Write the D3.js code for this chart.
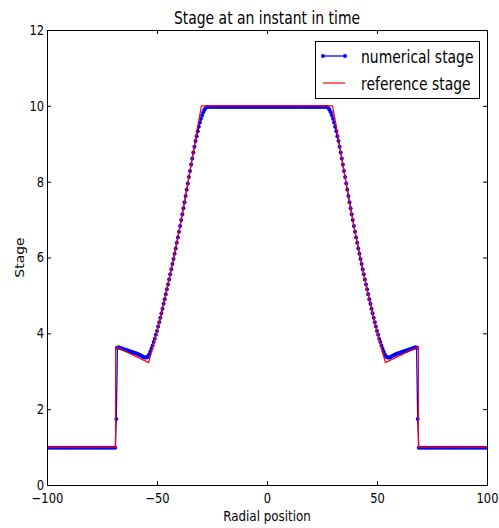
<!DOCTYPE html>
<html><head><meta charset="utf-8">
<script src="https://cdn.jsdelivr.net/npm/d3@7"></script>
<style>body{margin:0;background:#fff}</style>
</head><body><svg id="c" width="499" height="528"></svg>
<script>
// ---- data ----
const xTicks = [-100, -50, 0, 50, 100];
const yTicks = [0, 2, 4, 6, 8, 10, 12];
const seriesNames = ["numerical stage", "reference stage"];
const chartTitle = "Stage at an instant in time";
const xLabel = "Radial position";
const yLabel = "Stage";

const refX = [-100, -68.8, -68.8, -53.8, -52, -50, -48, -46, -44, -42, -40, -38, -36, -34, -32, -29.8,
  29.8, 32, 34, 36, 38, 40, 42, 44, 46, 48, 50, 52, 53.8, 68.8, 68.8, 100];
const refStage = [1.0, 1.0, 3.65, 3.23, 3.62, 4.06, 4.53, 5.03, 5.56, 6.1, 6.68, 7.3, 7.95, 8.62, 9.3, 10.0,
  10.0, 9.3, 8.62, 7.95, 7.3, 6.68, 6.1, 5.56, 5.03, 4.53, 4.06, 3.62, 3.23, 3.65, 1.0, 1.0];

const numX = [
  -100, -99, -98, -97, -96, -95, -94, -93, -92, -91, -90, -89, -88, -87, -86, -85, -84, -83, -82, -81,
  -80, -79, -78, -77, -76, -75, -74, -73, -72, -71, -70,
  -69, -68.5, -68, -67.5, -67, -66.5, -66, -65.5, -65, -64.5, -64, -63.5, -63, -62.5, -62, -61.5, -61, -60.5,
  -60, -59.5, -59, -58.5, -58, -57.5, -57, -56.5, -56, -55.5, -55, -54.5, -54, -53.5, -53, -52.5, -52, -51.5,
  -51, -50.5, -50, -49.5, -49, -48.5, -48, -47.5, -47, -46.5, -46, -45.5, -45, -44.5, -44, -43.5, -43, -42.5,
  -42, -41.5, -41, -40.5, -40, -39.5, -39, -38.5, -38, -37.5, -37, -36.5, -36, -35.5, -35, -34.5, -34, -33.5,
  -33, -32.5, -32, -31.5, -31, -30.5, -30, -29.5, -29, -28.5, -28, -27.5, -27,
  -26, -25, -24, -23, -22, -21, -20, -19, -18, -17, -16, -15, -14, -13, -12, -11, -10, -9, -8, -7, -6, -5,
  -4, -3, -2, -1, 0, 1, 2, 3, 4, 5, 6, 7, 8, 9, 10, 11, 12, 13, 14, 15, 16, 17, 18, 19, 20, 21, 22, 23, 24, 25, 26,
  27, 27.5, 28, 28.5, 29, 29.5, 30, 30.5, 31, 31.5, 32, 32.5, 33, 33.5, 34, 34.5, 35, 35.5, 36, 36.5, 37, 37.5,
  38, 38.5, 39, 39.5, 40, 40.5, 41, 41.5, 42, 42.5, 43, 43.5, 44, 44.5, 45, 45.5, 46, 46.5, 47, 47.5, 48, 48.5,
  49, 49.5, 50, 50.5, 51, 51.5, 52, 52.5, 53, 53.5, 54, 54.5, 55, 55.5, 56, 56.5, 57, 57.5, 58, 58.5, 59, 59.5,
  60, 60.5, 61, 61.5, 62, 62.5, 63, 63.5, 64, 64.5, 65, 65.5, 66, 66.5, 67, 67.5, 68, 68.5, 69,
  70, 71, 72, 73, 74, 75, 76, 77, 78, 79, 80, 81, 82, 83, 84, 85, 86, 87, 88, 89, 90, 91, 92, 93, 94, 95, 96,
  97, 98, 99, 100];
const numStage = [
  0.98, 0.98, 0.98, 0.98, 0.98, 0.98, 0.98, 0.98, 0.98, 0.98, 0.98, 0.98, 0.98, 0.98, 0.98, 0.98, 0.98, 0.98, 0.98, 0.98,
  0.98, 0.98, 0.98, 0.98, 0.98, 0.98, 0.98, 0.98, 0.98, 0.98, 0.98,
  0.98, 1.74, 3.62, 3.63, 3.62, 3.61, 3.60, 3.59, 3.58, 3.57, 3.56, 3.55, 3.54, 3.53, 3.52, 3.51, 3.50, 3.49,
  3.48, 3.47, 3.46, 3.45, 3.43, 3.42, 3.40, 3.39, 3.37, 3.36, 3.36, 3.37, 3.40, 3.45, 3.52, 3.60, 3.68, 3.77,
  3.86, 3.96, 4.06, 4.18, 4.29, 4.41, 4.53, 4.65, 4.78, 4.90, 5.03, 5.16, 5.29, 5.42, 5.56, 5.69, 5.83, 5.96,
  6.10, 6.24, 6.39, 6.53, 6.68, 6.83, 6.99, 7.14, 7.30, 7.46, 7.62, 7.79, 7.95, 8.12, 8.28, 8.45, 8.61, 8.77,
  8.92, 9.07, 9.20, 9.33, 9.45, 9.56, 9.66, 9.75, 9.83, 9.89, 9.93, 9.96, 9.97,
  9.97, 9.97, 9.97, 9.97, 9.97, 9.97, 9.97, 9.97, 9.97, 9.97, 9.97, 9.97, 9.97, 9.97, 9.97, 9.97, 9.97, 9.97, 9.97, 9.97, 9.97, 9.97,
  9.97, 9.97, 9.97, 9.97, 9.97, 9.97, 9.97, 9.97, 9.97, 9.97, 9.97, 9.97, 9.97, 9.97, 9.97, 9.97, 9.97, 9.97, 9.97, 9.97, 9.97, 9.97, 9.97,
  9.97, 9.97, 9.97, 9.97, 9.97, 9.97, 9.97, 9.97,
  9.97, 9.96, 9.93, 9.89, 9.83, 9.75, 9.66, 9.56, 9.45, 9.33, 9.20, 9.07, 8.92, 8.77, 8.61, 8.45, 8.28, 8.12, 7.95, 7.79, 7.62, 7.46,
  7.30, 7.14, 6.99, 6.83, 6.68, 6.53, 6.39, 6.24, 6.10, 5.96, 5.83, 5.69, 5.56, 5.42, 5.29, 5.16, 5.03, 4.90, 4.78, 4.65, 4.53, 4.41,
  4.29, 4.18, 4.06, 3.96, 3.86, 3.77, 3.68, 3.60, 3.52, 3.45, 3.40, 3.37, 3.36, 3.36, 3.37, 3.39, 3.40, 3.42, 3.43, 3.45, 3.46, 3.47,
  3.48, 3.49, 3.50, 3.51, 3.52, 3.53, 3.54, 3.55, 3.56, 3.57, 3.58, 3.59, 3.60, 3.61, 3.62, 3.63, 3.62, 1.74, 0.98,
  0.98, 0.98, 0.98, 0.98, 0.98, 0.98, 0.98, 0.98, 0.98, 0.98, 0.98, 0.98, 0.98, 0.98, 0.98, 0.98, 0.98, 0.98, 0.98, 0.98, 0.98, 0.98, 0.98,
  0.98, 0.98, 0.98, 0.98, 0.98, 0.98, 0.98, 0.98];

// ---- layout ----
const SX = 0.82;           // horizontal text compression seen in the reference
const FONT = "DejaVu Sans";
const L = 47, R = 487, T = 30, B = 485;
const svg = d3.select("#c");
svg.append("rect").attr("width", 499).attr("height", 528).attr("fill", "#fff");

const x = d3.scaleLinear().domain([-100, 100]).range([L, R]);
const y = d3.scaleLinear().domain([0, 12]).range([B, T]);

function txt(g, s, px, py, size, anchor) {
  return g.append("text")
    .attr("transform", `translate(${px},${py}) scale(${SX},1)`)
    .attr("text-anchor", anchor)
    .attr("font-family", FONT)
    .attr("font-size", size)
    .attr("fill", "#000")
    .text(s);
}

svg.append("clipPath").attr("id", "clip")
  .append("rect").attr("x", L).attr("y", T).attr("width", R - L).attr("height", B - T);

const plot = svg.append("g").attr("clip-path", "url(#clip)");

const numData = numX.map((v, i) => ({ x: v, s: numStage[i] }));
const refData = refX.map((v, i) => ({ x: v, s: refStage[i] }));
const line = d3.line().x(d => x(d.x)).y(d => y(d.s));

plot.append("path").datum(numData).attr("d", line)
  .attr("fill", "none").attr("stroke", "#0000ff").attr("stroke-width", 1.3);
plot.append("g").selectAll("circle").data(numData).join("circle")
  .attr("cx", d => x(d.x)).attr("cy", d => y(d.s)).attr("r", 2)
  .attr("fill", "#0000ff");
plot.append("path").datum(refData).attr("d", line)
  .attr("fill", "none").attr("stroke", "#ff0000").attr("stroke-width", 1.2);

// ---- axes ----
function styleAxis(g) {
  g.select(".domain").remove();
  g.selectAll(".tick line").attr("stroke", "#000");
  g.attr("font-family", FONT).attr("font-size", 14);
  g.selectAll("text").attr("fill", "#000");
}
const gx = svg.append("g").attr("transform", `translate(0,${B})`)
  .call(d3.axisBottom(x).tickValues(xTicks).tickSize(-4).tickPadding(8));
styleAxis(gx);
gx.selectAll("text").attr("transform", `scale(${SX},1)`);

const gy = svg.append("g").attr("transform", `translate(${L},0)`)
  .call(d3.axisLeft(y).tickValues(yTicks).tickSize(-4).tickPadding(3.5));
styleAxis(gy);
gy.selectAll("text").attr("transform", `scale(${SX},1)`);

const gt = svg.append("g").attr("transform", `translate(0,${T})`)
  .call(d3.axisTop(x).tickValues(xTicks).tickSize(-4).tickFormat(""));
styleAxis(gt);
const gr = svg.append("g").attr("transform", `translate(${R},0)`)
  .call(d3.axisRight(y).tickValues(yTicks).tickSize(-4).tickFormat(""));
styleAxis(gr);

svg.append("rect").attr("x", L + 0.5).attr("y", T + 0.5)
  .attr("width", R - L).attr("height", B - T)
  .attr("fill", "none").attr("stroke", "#000").attr("stroke-width", 1);

// ---- labels ----
txt(svg, chartTitle, (L + R) / 2, 24, 17, "middle");
txt(svg, xLabel, (L + R) / 2, 521, 14.5, "middle");
svg.append("text")
  .attr("transform", `translate(24,${(T + B) / 2}) scale(${SX},1) rotate(-90)`)
  .attr("text-anchor", "middle").attr("font-family", FONT).attr("font-size", 14)
  .attr("fill", "#000").text(yLabel);

// ---- legend ----
const lg = svg.append("g");
lg.append("rect").attr("x", 315.5).attr("y", 41.5).attr("width", 164).attr("height", 57)
  .attr("fill", "#fff").attr("stroke", "#000").attr("stroke-width", 1);
const ly = [56, 83];
lg.append("line").attr("x1", 323).attr("x2", 345).attr("y1", ly[0]).attr("y2", ly[0])
  .attr("stroke", "#0000ff").attr("stroke-width", 1.3);
[323, 345].forEach(cx => lg.append("circle").attr("cx", cx).attr("cy", ly[0]).attr("r", 2).attr("fill", "#0000ff"));
lg.append("line").attr("x1", 323).attr("x2", 345).attr("y1", ly[1]).attr("y2", ly[1])
  .attr("stroke", "#ff0000").attr("stroke-width", 1.2);
txt(lg, seriesNames[0], 361, 63, 17, "start");
txt(lg, seriesNames[1], 361, 90, 17, "start");
</script></body></html>
